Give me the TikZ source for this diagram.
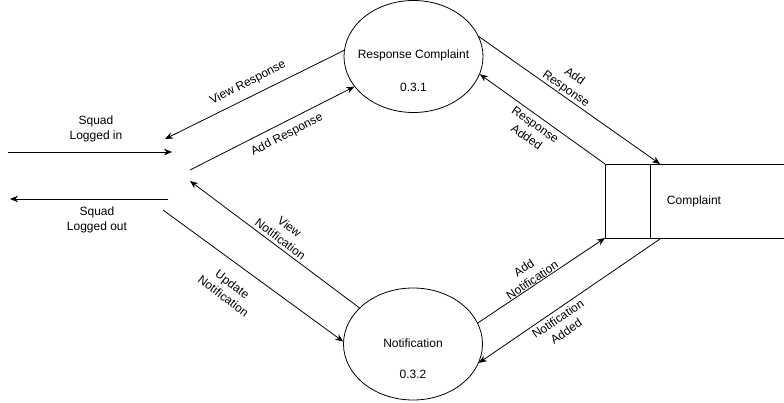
\documentclass[tikz,border=0pt]{standalone}
\usepackage{fontspec}
\setmainfont{Liberation Sans}
\usetikzlibrary{shapes}
\usetikzlibrary{arrows.meta}
\tikzset{proc/.style={ellipse,draw,line width=0.8pt,minimum width=139pt,minimum height=112pt,inner sep=0pt}}
\tikzset{flow/.style={line width=0.8pt,-{Stealth[length=8pt,width=6.5pt]}}}
\tikzset{lbl/.style={align=center,inner sep=0pt}}

\begin{document}
\begin{tikzpicture}[x=1pt,y=-1pt]
        \fontsize{12}{15}\selectfont
        \useasboundingbox (0,0) rectangle (784,402);
        % processes
        \node[proc] (rc) at (413.5,56.5) {};
        \node (rc-name) at (413.5,55) {Response Complaint};
        \node (rc-num) at (413.5,87) {0.3.1};
        \node[proc] (nt) at (413,344) {};
        \node (nt-name) at (413,343) {Notification};
        \node (nt-num) at (413,374) {0.3.2};
        % data store
        \coordinate (st-nw) at (605,164);
        \coordinate (st-sw) at (605,238);
        \coordinate (st-n) at (650,164);
        \coordinate (st-s) at (650,238);
        \coordinate (st-in) at (660,164);
        \coordinate (st-out) at (660,239);
        \draw[line width=0.8pt] (784,164) -- (st-nw) -- (st-sw) -- (784,238);
        \draw[line width=0.8pt] (st-n) -- (st-s);
        \node (store) at (694,201) {Complaint};
        % free ends on the left
        \coordinate (in-a) at (8,152);
        \coordinate (in-b) at (172,152);
        \coordinate (out-a) at (168,199);
        \coordinate (out-b) at (10,199);
        \coordinate (vr-end) at (165,139);
        \coordinate (ar-start) at (190,170);
        \coordinate (vn-end) at (190,181);
        \coordinate (un-start) at (163,210);
        % flows
        \draw[flow] (in-a) -- (in-b);
        \draw[flow] (out-a) -- (out-b);
        \draw[flow] (rc.175) -- (vr-end);
        \draw[flow] (ar-start) -- (rc.207);
        \draw[flow] (nt.146) -- (vn-end);
        \draw[flow] (un-start) -- (nt.178);
        \draw[flow] (rc.17) -- (st-in);
        \draw[flow] (st-nw) -- (rc.345);
        \draw[flow] (nt.18) -- (st-sw);
        \draw[flow] (st-out) -- (nt.344);
        % labels
        \node[lbl] (l-in) at (96,129) {Squad\\Logged in};
        \node[lbl] (l-out) at (97,220) {Squad\\Logged out};
        \node[lbl,rotate=27] (l-vr) at (248,83) {View Response};
        \node[lbl,rotate=27] (l-ar) at (287,135) {Add Response};
        \node[lbl,rotate=-37] (l-vn) at (285,233) {View\\Notification};
        \node[lbl,rotate=-37] (l-un) at (228,290) {Update\\Notification};
        \node[lbl,rotate=-35] (l-ar2) at (570,83) {Add\\Response};
        \node[lbl,rotate=-35] (l-ra) at (531,131) {Response\\Added};
        \node[lbl,rotate=34] (l-an) at (528,274) {Add\\Notification};
        \node[lbl,rotate=34] (l-na) at (562,325) {Notification\\Added};
      \end{tikzpicture}
\end{document}
